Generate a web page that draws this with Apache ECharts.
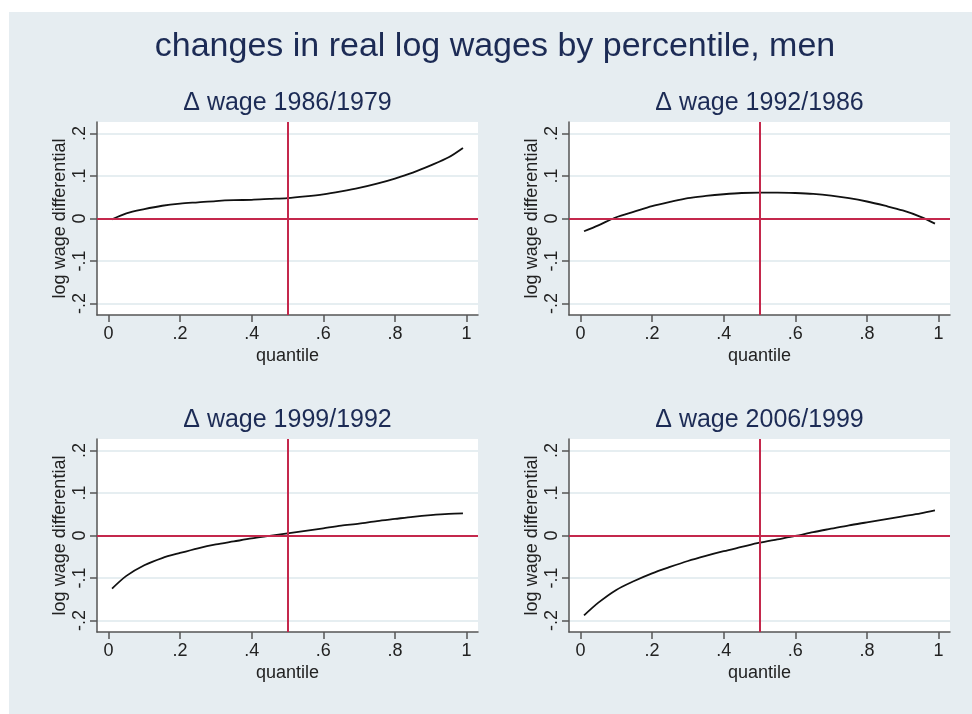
<!DOCTYPE html>
<html>
<head>
<meta charset="utf-8">
<title>changes in real log wages by percentile, men</title>
<script src="https://cdn.jsdelivr.net/npm/echarts@6/dist/echarts.min.js"></script>
<style>
  html, body { margin: 0; padding: 0; background: #fff; }
  #bg { position: absolute; left: 9px; top: 12px; width: 963px; height: 702px; background: #e6edf1; }
  #chart { position: absolute; left: 0; top: 0; width: 972px; height: 714px; }
</style>
</head>
<body>
<div id="bg"></div>
<div id="chart"></div>
<script>
const quantiles = [0.01, 0.05, 0.1, 0.15, 0.2, 0.25, 0.3, 0.35, 0.4, 0.45, 0.5, 0.55, 0.6, 0.65, 0.7, 0.75, 0.8, 0.85, 0.9, 0.95, 0.99];

const wage1986_1979 = [-0.002, 0.012, 0.022, 0.030, 0.035, 0.038, 0.041, 0.043, 0.044, 0.046, 0.048, 0.052, 0.057, 0.064, 0.072, 0.082, 0.094, 0.108, 0.125, 0.144, 0.166];
const wage1992_1986 = [-0.030, -0.016, 0.003, 0.016, 0.029, 0.039, 0.048, 0.053, 0.057, 0.060, 0.061, 0.061, 0.060, 0.058, 0.054, 0.048, 0.040, 0.030, 0.019, 0.004, -0.012];
const wage1999_1992 = [-0.125, -0.095, -0.070, -0.053, -0.041, -0.030, -0.021, -0.014, -0.007, -0.001, 0.005, 0.011, 0.017, 0.023, 0.028, 0.034, 0.039, 0.044, 0.048, 0.051, 0.052];
const wage2006_1999 = [-0.188, -0.158, -0.128, -0.107, -0.089, -0.074, -0.060, -0.048, -0.037, -0.027, -0.017, -0.009, -0.001, 0.008, 0.016, 0.024, 0.031, 0.038, 0.045, 0.052, 0.059];

const panelTitles = ['Δ wage 1986/1979', 'Δ wage 1992/1986', 'Δ wage 1999/1992', 'Δ wage 2006/1999'];
const panelData = [wage1986_1979, wage1992_1986, wage1999_1992, wage2006_1999];

const xTicks = [0, 0.2, 0.4, 0.6, 0.8, 1];
const yTicks = [-0.2, -0.1, 0, 0.1, 0.2];

const mainTitle = 'changes in real log wages by percentile, men';

const FONT = '"Liberation Sans", Arial, Helvetica, sans-serif';
const NAVY = '#1c2b55';
const RED = '#c4284c';

// plot regions (left, top, width, height)
const grids = [
  { left: 97, top: 122, width: 381, height: 193 },
  { left: 569, top: 122, width: 381, height: 193 },
  { left: 97, top: 439, width: 381, height: 193 },
  { left: 569, top: 439, width: 381, height: 193 },
];

function stataLabel(v) {
  if (v === 0) return '0';
  return String(+v.toFixed(2)).replace('0.', '.');
}

let option = {
  animation: false,
  backgroundColor: 'transparent',
  graphic: [
    {
      type: 'text', x: 495, y: 47,
      style: { text: mainTitle, fill: NAVY, font: '34px ' + FONT, align: 'center', verticalAlign: 'middle' },
    },
  ],
  grid: [],
  xAxis: [],
  yAxis: [],
  series: [],
};

grids.forEach((g, i) => {
  option.grid.push({
    left: g.left, top: g.top, width: g.width, height: g.height,
    show: true, backgroundColor: '#fff', borderWidth: 0,
  });
  option.graphic.push({
    type: 'text', x: g.left + g.width / 2, y: g.top - 19,
    style: { text: panelTitles[i], fill: NAVY, font: '25px ' + FONT, align: 'center', verticalAlign: 'middle' },
  });
  option.xAxis.push({
    type: 'value', gridIndex: i, min: -0.032, max: 1.032,
    name: 'quantile', nameLocation: 'middle', nameGap: 32,
    nameTextStyle: { color: '#222', fontSize: 18, fontFamily: FONT },
    axisLine: { show: true, onZero: false, lineStyle: { color: '#555', width: 1.5 } },
    axisTick: { show: true, length: 7, customValues: xTicks, lineStyle: { color: '#555', width: 1.5 } },
    axisLabel: { customValues: xTicks, formatter: stataLabel, color: '#222', fontSize: 18, fontFamily: FONT, margin: 10 },
    splitLine: { show: false },
  });
  option.yAxis.push({
    type: 'value', gridIndex: i, min: -0.227, max: 0.227,
    name: 'log wage differential', nameLocation: 'middle', nameGap: 28, nameRotate: 90,
    nameTextStyle: { color: '#222', fontSize: 18, fontFamily: FONT },
    axisLine: { show: true, onZero: false, lineStyle: { color: '#555', width: 1.5 } },
    axisTick: { show: true, length: 7, customValues: yTicks, lineStyle: { color: '#555', width: 1.5 } },
    axisLabel: { customValues: yTicks, formatter: stataLabel, rotate: 90, color: '#222', fontSize: 18, fontFamily: FONT, margin: 8 },
    splitLine: { show: true, customValues: yTicks, lineStyle: { color: '#e6eef1', width: 2 } },
  });
  option.series.push({
    type: 'line', xAxisIndex: i, yAxisIndex: i,
    data: quantiles.map((q, k) => [q, panelData[i][k]]),
    smooth: 0.3, showSymbol: false, symbol: 'none',
    lineStyle: { color: '#111', width: 1.8 },
    markLine: {
      silent: true, symbol: 'none', label: { show: false },
      lineStyle: { color: RED, type: 'solid', width: 2 },
      data: [{ xAxis: 0.5 }, { yAxis: 0 }],
    },
  });
});

let myChart = echarts.init(document.getElementById('chart'), null, { renderer: 'canvas' });
myChart.setOption(option);
</script>
</body>
</html>
